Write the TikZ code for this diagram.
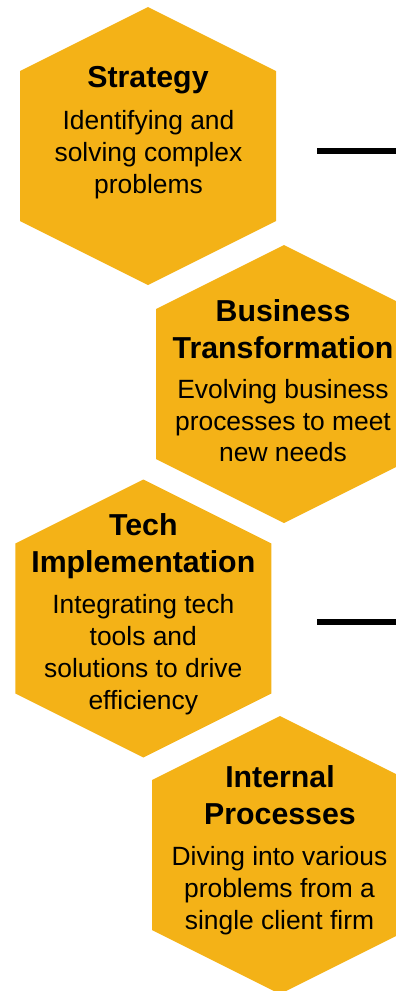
\documentclass[tikz,border=0pt]{standalone}
\usepackage{fontspec}
\setmainfont{Liberation Sans}
\definecolor{hexgold}{HTML}{F4B217}
\tikzset{
  hexfill/.style={fill=hexgold, draw=none},
  titletext/.style={font=\fontsize{30.3}{37}\selectfont\bfseries, align=center, inner sep=0pt, anchor=base, text=black},
  bodytext/.style={font=\fontsize{26.4}{31.7}\selectfont, align=center, inner sep=0pt, anchor=base, text=black},
  tick/.style={line width=6pt, black}
}
\newcommand{\myhex}[3]{% name, cx, cy
  \coordinate (#1) at (#2,#3);
  \fill[hexfill] (#2,#3-139) -- (#2+128,#3-75) -- (#2+128,#3+75) -- (#2,#3+139)
     -- (#2-128,#3+75) -- (#2-128,#3-75) -- cycle;
}
\begin{document}
\begin{tikzpicture}[x=1pt,y=-1pt]
\useasboundingbox (0,0) rectangle (396,991);
\myhex{h1}{148}{146}
\myhex{h2}{284}{384}
\myhex{h3}{143.3}{618.5}
\myhex{h4}{280}{855}

% anchor=base sits on the last line's baseline
\node[titletext] (t1) at (148,87.3) {Strategy};
\node[bodytext] (b1) at (148.5,193.3) {Identifying and\\solving complex\\problems};

\node[titletext] (t2) at (283,358.3) {Business\\Transformation};
\node[bodytext] (b2) at (283,461.7) {Evolving business\\processes to meet\\new needs};

\node[titletext] (t3) at (143.3,572.7) {Tech\\Implementation};
\node[bodytext] (b3) at (143.3,709) {Integrating tech\\tools and\\solutions to drive\\efficiency};

\node[titletext] (t4) at (280,824) {Internal\\Processes};
\node[bodytext] (b4) at (279.5,929) {Diving into various\\problems from a\\single client firm};

\coordinate (l1a) at (317.3,151.3);
\coordinate (l1b) at (396,151.3);
\coordinate (l2a) at (317.3,622.3);
\coordinate (l2b) at (396,622.3);
\draw[tick] (l1a) -- (l1b);
\draw[tick] (l2a) -- (l2b);
\end{tikzpicture}
\end{document}
